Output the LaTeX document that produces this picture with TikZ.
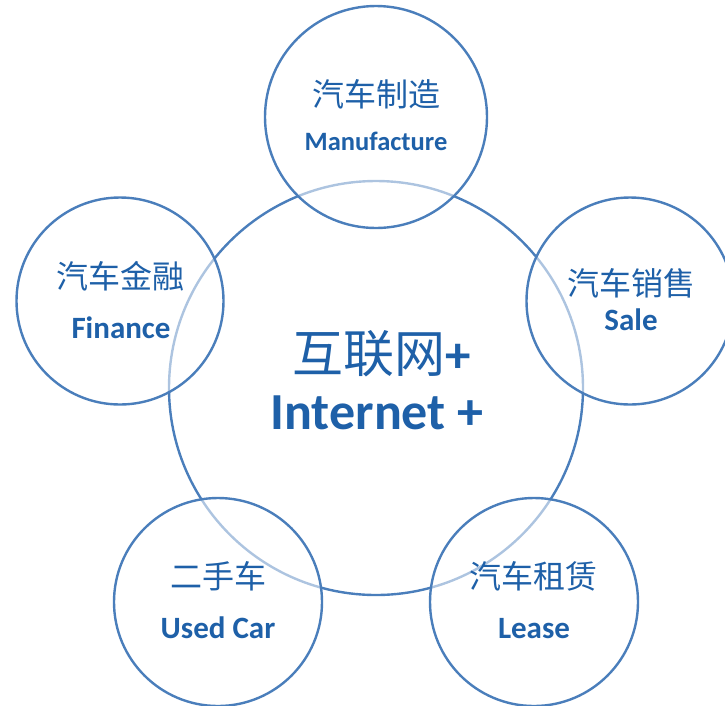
\documentclass[tikz,border=0pt]{standalone}
\usepackage{fontspec}
\setmainfont{Carlito}
\newfontfamily\cjk{Noto Sans CJK SC}
\usetikzlibrary{positioning}

\definecolor{ringblue}{RGB}{74,126,187}
\definecolor{textblue}{RGB}{30,96,168}

\begin{document}
\begin{tikzpicture}[
  x=1pt, y=-1pt,
  ring/.style={circle, draw=ringblue, line width=2.4pt, inner sep=0pt,
               fill=white, fill opacity=0.55, draw opacity=1},
  hub/.style={circle, draw=ringblue, line width=2.4pt, inner sep=0pt,
              minimum size=414pt},
  cn/.style={anchor=base, text=textblue, font=\cjk\fontsize{32}{32}\selectfont},
  en/.style={anchor=base, text=textblue, font=\bfseries\fontsize{31}{31}\selectfont},
]
\useasboundingbox (0,0) rectangle (725,705);

% centre ring first, the five rings lie over it
\node[hub] (internet) at (376,388) {};

\node[ring, minimum size=222pt] (make)    at (376,117) {};
\node[ring, minimum size=207pt] (sale)    at (630,301) {};
\node[ring, minimum size=207pt] (finance) at (120,301) {};
\node[ring, minimum size=208pt] (used)    at (218,602) {};
\node[ring, minimum size=208pt] (lease)   at (534,602) {};

% labels
\node[anchor=base, text=textblue, font=\fontsize{51}{51}\selectfont] (hubcn) at (382,372)
  {{\cjk 互联网}\textbf{+}};
\node[anchor=base, text=textblue, font=\bfseries\fontsize{52}{52}\selectfont] (hubEN) at (377,429)
  {Internet +};

\node[cn] (makecn) at (376,106) {汽车制造};
\node[en, font=\bfseries\fontsize{26.5}{26.5}\selectfont] (makeen) at (376,150) {Manufacture};

\node[cn] (salecn) at (631,295) {汽车销售};
\node[en] (saleen) at (631,330) {Sale};

\node[cn] (financecn) at (120,288) {汽车金融};
\node[en] (financeen) at (121,338) {Finance};

\node[cn] (usedcn) at (218,588) {二手车};
\node[en] (useden) at (218,638) {Used Car};

\node[cn] (leasecn) at (533,588) {汽车租赁};
\node[en] (leaseen) at (534,638) {Lease};
\end{tikzpicture}
\end{document}
